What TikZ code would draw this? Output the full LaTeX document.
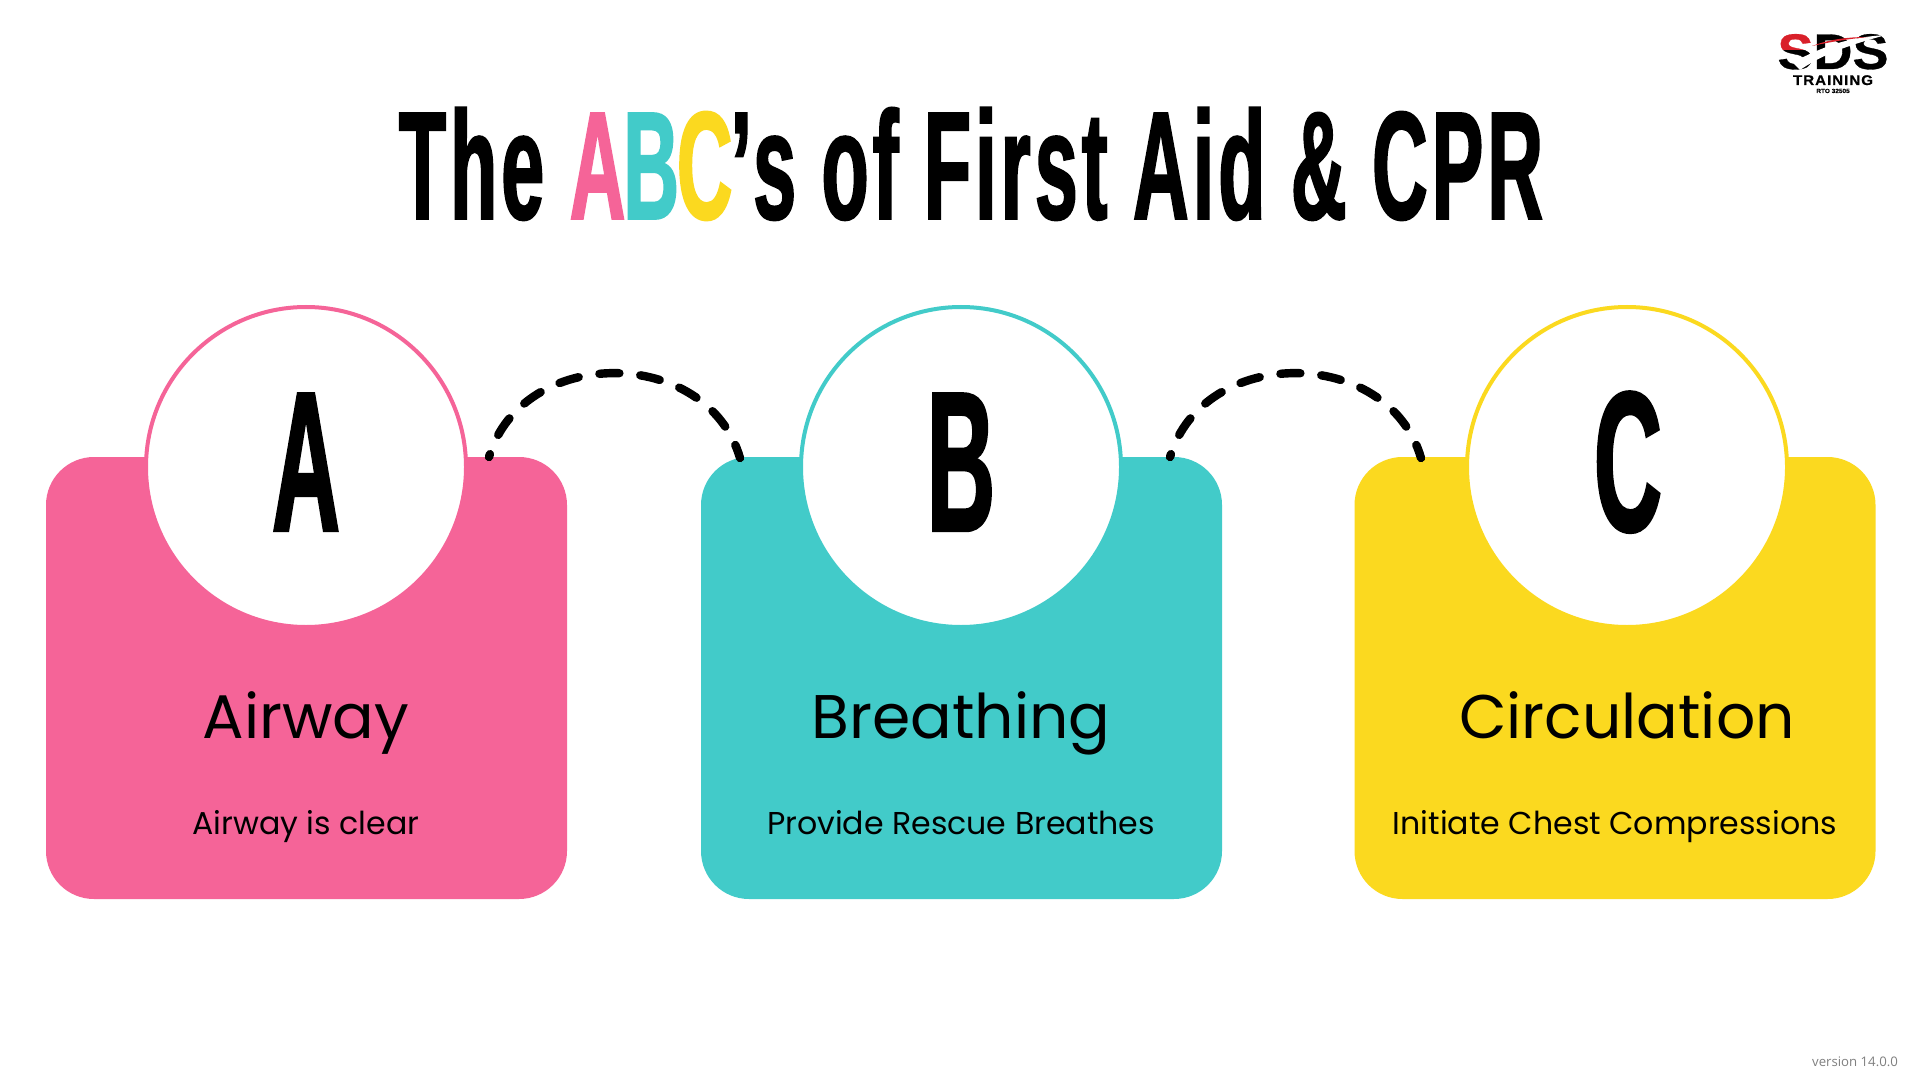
\documentclass[tikz,border=0pt]{standalone}
\usepackage{fontspec}
\setmainfont{Poppins}
\newfontfamily\titlefont[FakeStretch=0.5,FakeBold=1.2,LetterSpace=2.7]{Liberation Sans Bold}
\newfontfamily\letterfont[FakeStretch=0.47,FakeBold=1.2]{Liberation Sans Bold}
\newfontfamily\logofont[FakeStretch=1.08,FakeBold=0.6]{Liberation Sans Bold}
\newfontfamily\logosubfont[FakeStretch=1.08,FakeBold=0.6,LetterSpace=7]{Liberation Sans Bold}
\newfontfamily\versionfont{Open Sans}
\usetikzlibrary{positioning, calc}
\definecolor{abcpink}{HTML}{F56498}
\definecolor{abcteal}{HTML}{42CBC9}
\definecolor{abcyellow}{HTML}{FBD91F}
\definecolor{logored}{HTML}{D9202A}
\tikzset{
  cardbox/.style={minimum width=260.5pt, minimum height=221pt, rounded corners=24pt, inner sep=0pt},
  letterdisc/.style={circle, draw, fill=white, line width=2pt, minimum size=160pt, inner sep=0pt},
  discmark/.style={anchor=base, inner sep=0pt, font=\letterfont\fontsize{100}{100}\selectfont},
  cardtitle/.style={anchor=base, font=\fontsize{30.8}{32}\selectfont, inner sep=0pt},
  cardtext/.style={anchor=base, font=\fontsize{15.8}{16}\selectfont, inner sep=0pt},
  hop/.style={line width=4.2pt, line cap=round, dash pattern=on 10pt off 10.5pt, dash phase=8.5pt},
}
\begin{document}
\begin{tikzpicture}[x=0.5pt, y=-0.5pt]
  \useasboundingbox (0,0) rectangle (1920,1080);
  \fill[white] (0,0) rectangle (1920,1080);
  % heading
  \node[anchor=base, inner sep=0pt, font=\titlefont\fontsize{77}{77}\selectfont] (heading) at (971,219)
    {The \textcolor{abcpink}{A}\kern-1pt\textcolor{abcteal}{B}\kern-1pt\textcolor{abcyellow}{C}\kern-1pt’s of First Aid \& CPR};
  % cards
  \node[cardbox, fill=abcpink] (boxA) at (306.5,678) {};
  \node[cardbox, fill=abcteal] (boxB) at (961.5,678) {};
  \node[cardbox, fill=abcyellow] (boxC) at (1615,678) {};
  \node[letterdisc, draw=abcpink] (discA) at (306,467) {};
  \node[letterdisc, draw=abcteal] (discB) at (961,467) {};
  \node[letterdisc, draw=abcyellow] (discC) at (1627,467) {};
  \node[discmark] (markA) at (306,531) {A};
  \node[discmark] (markB) at (961,531) {B};
  \node[discmark] (markC) at (1628,531) {C};
  % labels
  \node[cardtitle] (nameA) at (306,738) {Airway};
  \node[cardtitle] (nameB) at (961,738) {Breathing};
  \node[cardtitle] (nameC) at (1627,738) {Circulation};
  \node[cardtext] (textA) at (306,834) {Airway is clear};
  \node[cardtext] (textB) at (961,834) {Provide Rescue Breathes};
  \node[cardtext] (textC) at (1615,834) {Initiate Chest Compressions};
  % hops
  \coordinate (hopAout) at (489,457);
  \coordinate (hopBin) at (740,458);
  \coordinate (hopBout) at (1170,457);
  \coordinate (hopCin) at (1421,458);
  \draw[hop] (hopAout) .. controls (522,345) and (707,345) .. (hopBin);
  \draw[hop] (hopBout) .. controls (1203,345) and (1388,345) .. (hopCin);
  % logo
  \node[anchor=base, inner sep=0pt, font=\logofont\fontsize{25}{25}\selectfont] (logoname) at (1833,69) {SDS};
  \fill[logored, blend mode=screen] (1770,30) rectangle (1812,50);
  \fill[white] (1792,62) .. controls (1812,54) and (1835,38) .. (1886,35)
    .. controls (1845,46) and (1820,56) .. (1800,70) -- cycle;
  \fill[logored] (1812,46) .. controls (1828,40) and (1845,37) .. (1868,37)
    .. controls (1848,39) and (1830,42) .. cycle;
  \node[anchor=base, inner sep=0pt, font=\logosubfont\fontsize{7}{7}\selectfont] (logotrain) at (1833,85) {TRAINING};
  \node[anchor=base, inner sep=0pt, font=\logofont\fontsize{3}{3}\selectfont] (logorto) at (1833,93) {RTO 32505};
  % version
  \node[inner sep=0pt, text=black!50, font=\versionfont\fontsize{6.6}{7}\selectfont] (version) at (1855,1062) {version 14.0.0};
\end{tikzpicture}
\end{document}
